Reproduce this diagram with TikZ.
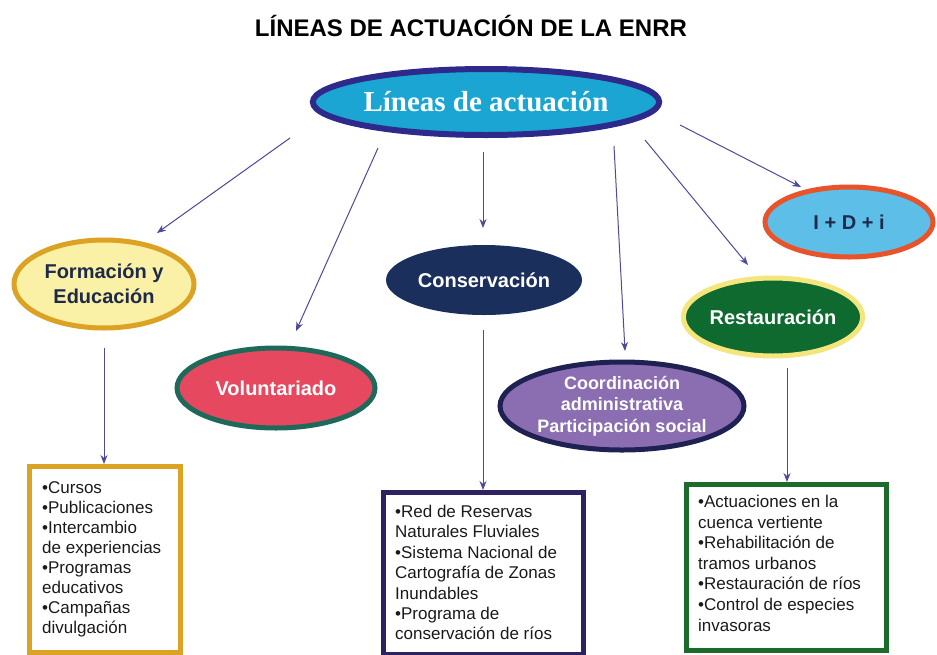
\documentclass[tikz,border=0pt]{standalone}
\usepackage{fontspec}
\setmainfont{Liberation Sans}
\newfontfamily\serifbold{Liberation Serif}
\usetikzlibrary{shapes.geometric,arrows.meta}
\definecolor{arrowc}{HTML}{4B4B99}
\definecolor{mainfill}{HTML}{1AA5D2}
\definecolor{mainbord}{HTML}{2D2A8C}
\definecolor{formfill}{HTML}{FAF0A6}
\definecolor{formbord}{HTML}{DCA223}
\definecolor{navytext}{HTML}{1E2A4A}
\definecolor{volfill}{HTML}{E6485F}
\definecolor{volbord}{HTML}{1E6A5A}
\definecolor{consfill}{HTML}{1B2F5C}
\definecolor{coorfill}{HTML}{8B6DB2}
\definecolor{coorbord}{HTML}{1E2152}
\definecolor{restfill}{HTML}{0F6A2F}
\definecolor{restbord}{HTML}{F4E67C}
\definecolor{idifill}{HTML}{5DBEE8}
\definecolor{idibord}{HTML}{E8532A}
\definecolor{box1}{HTML}{DCA223}
\definecolor{box2}{HTML}{2E2262}
\definecolor{box3}{HTML}{1B6B2B}
\definecolor{boxtext}{HTML}{1A1A1A}
\tikzset{
  oval/.style={ellipse, inner sep=0pt, line width=5pt, font=\bfseries\fontsize{20}{25}\selectfont, align=center},
  conn/.style={draw=arrowc, line width=1pt, -{Stealth[length=9pt,width=7pt]}},
  listbox/.style={draw, line width=5pt, anchor=north west, inner sep=0pt},
  listtext/.style={anchor=north west, inner sep=0pt, text=boxtext, align=left},
}
\begin{document}
\begin{tikzpicture}[x=1pt,y=-1pt]
\useasboundingbox (0,0) rectangle (937,654);
\node[font=\bfseries\fontsize{24}{28}\selectfont] (title) at (471,26) {LÍNEAS DE ACTUACIÓN DE LA ENRR};

\node[oval, draw=mainbord, fill=mainfill, line width=6pt, minimum width=340pt, minimum height=66pt, text=white, font=\serifbold\bfseries\fontsize{29}{32}\selectfont] (main) at (486,102) {Líneas de actuación};

\node[oval, draw=formbord, fill=formfill, minimum width=180pt, minimum height=88pt, text=navytext] (form) at (104,284) {Formación y\\Educación};
\node[oval, draw=volbord, fill=volfill, minimum width=198pt, minimum height=80pt, text=white] (vol) at (276,388) {Voluntariado};
\node[oval, draw=none, fill=consfill, minimum width=196pt, minimum height=70pt, text=white] (cons) at (484,280) {Conservación};
\node[oval, draw=coorbord, fill=coorfill, minimum width=244pt, minimum height=88pt, text=white, font=\bfseries\fontsize{18}{21.5}\selectfont] (coor) at (622,406) {Coordinación\\administrativa\\Participación social};
\node[oval, draw=restbord, fill=restfill, minimum width=172pt, minimum height=78pt, text=white] (rest) at (773,317) {Restauración};
\node[oval, draw=idibord, fill=idifill, minimum width=168pt, minimum height=70pt, text=navytext] (idi) at (849,222) {I + D + i};

\coordinate (s1) at (290,138);
\coordinate (s2) at (378,148);
\coordinate (s3) at (483,152);
\coordinate (s4) at (614,146);
\coordinate (s5) at (645,140);
\coordinate (s6) at (680,125);
\coordinate (e1) at (157,233);
\coordinate (e2) at (296,331);
\coordinate (e3) at (483,228);
\coordinate (e4) at (625,351);
\coordinate (e5) at (748,265);
\coordinate (e6) at (801,187);
\draw[conn] (s1) -- (e1);
\draw[conn] (s2) -- (e2);
\draw[conn] (s3) -- (e3);
\draw[conn] (s4) -- (e4);
\draw[conn] (s5) -- (e5);
\draw[conn] (s6) -- (e6);

\node[listbox, draw=box1, minimum width=151pt, minimum height=186pt] (b1) at (27,464) {};
\node[listbox, draw=box2, minimum width=200pt, minimum height=162pt] (b2) at (381,490) {};
\node[listbox, draw=box3, minimum width=200pt, minimum height=166pt] (b3) at (684,482) {};

\node[listtext, font=\fontsize{17}{20}\selectfont] (t1) at (42,481) {•Cursos\\•Publicaciones\\•Intercambio\\de experiencias\\•Programas\\educativos\\•Campañas\\divulgación};
\node[listtext, font=\fontsize{17}{20.4}\selectfont] (t2) at (395,505) {•Red de Reservas\\Naturales Fluviales\\•Sistema Nacional de\\Cartografía de Zonas\\Inundables\\•Programa de\\conservación de ríos};
\node[listtext, font=\fontsize{17}{20.6}\selectfont] (t3) at (698,495) {•Actuaciones en la\\cuenca vertiente\\•Rehabilitación de\\tramos urbanos\\•Restauración de ríos\\•Control de especies\\invasoras};

\coordinate (f0) at (104,348);
\coordinate (c0) at (483,330);
\coordinate (r0) at (787,368);
\draw[conn] (f0) -- (b1.north -| f0);
\draw[conn] (c0) -- (b2.north -| c0);
\draw[conn] (r0) -- (b3.north -| r0);
\end{tikzpicture}
\end{document}
